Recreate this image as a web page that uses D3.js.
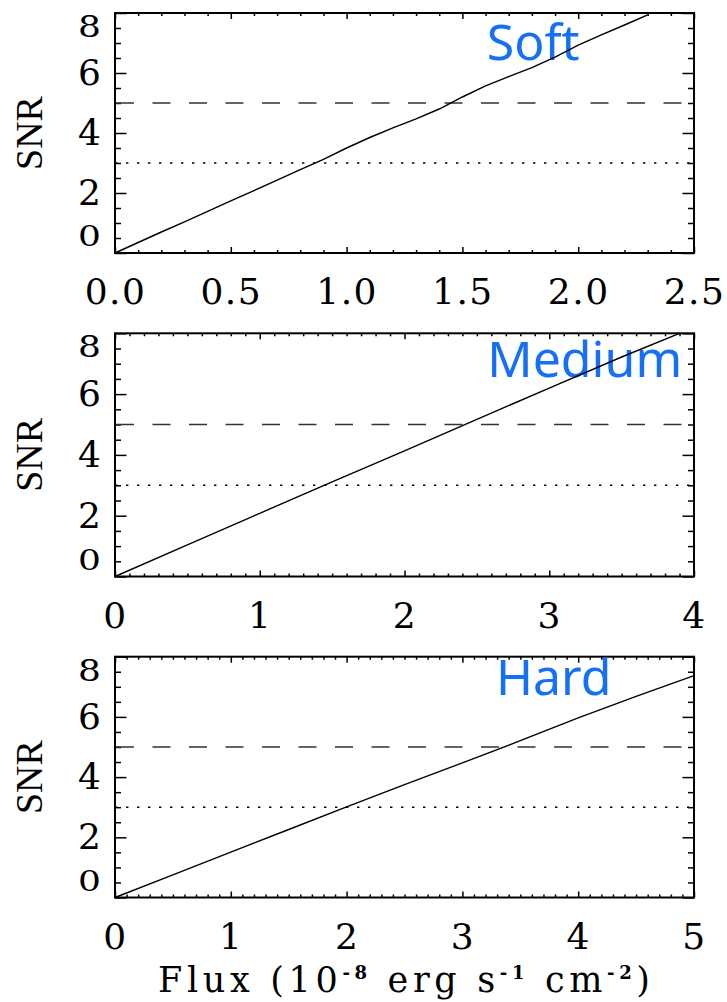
<!DOCTYPE html>
<html>
<head>
<meta charset="utf-8">
<script src="https://cdn.jsdelivr.net/npm/d3@7"></script>
<style>
  body { margin: 0; background: #fff; }
  svg { display: block; }
</style>
</head>
<body>
<svg id="chart"></svg>
<script>
// values
const bandNames = ["Soft", "Medium", "Hard"];

const softFlux = [0, 0.1, 0.2, 0.3, 0.4, 0.5, 0.6, 0.7, 0.8, 0.9, 1.0, 1.1, 1.2, 1.3, 1.4, 1.5, 1.6, 1.7, 1.8, 1.9, 2.0, 2.1, 2.2, 2.3];
const softSnr  = [0, 0.35, 0.70, 1.04, 1.39, 1.74, 2.08, 2.43, 2.78, 3.12, 3.50, 3.85, 4.17, 4.47, 4.80, 5.20, 5.57, 5.88, 6.18, 6.53, 6.93, 7.27, 7.60, 7.94];

const mediumFlux = [0, 0.5, 1.0, 1.5, 2.0, 2.5, 3.0, 3.5, 3.9];
const mediumSnr  = [0, 1.04, 2.08, 3.11, 4.13, 5.17, 6.20, 7.22, 8.0];

const hardFlux = [0, 0.5, 1.0, 1.5, 2.0, 2.5, 3.0, 3.5, 4.0, 4.5, 5.0];
const hardSnr  = [0, 0.75, 1.51, 2.26, 3.01, 3.75, 4.47, 5.21, 5.97, 6.68, 7.37];

const xMaxes = [2.5, 4, 5];
const xTickValues = [[0, 0.5, 1, 1.5, 2, 2.5], [0, 1, 2, 3, 4], [0, 1, 2, 3, 4, 5]];
const xTickLabels = [["0.0", "0.5", "1.0", "1.5", "2.0", "2.5"], ["0", "1", "2", "3", "4"], ["0", "1", "2", "3", "4", "5"]];
const yTickValues = [0, 2, 4, 6, 8];
const yTickLabels = ["0", "2", "4", "6", "8"];
const snrDetect = 5;   // dashed
const snrMarginal = 3; // dotted

const series = [
    softFlux.map((f, i) => ({flux: f, snr: softSnr[i]})),
    mediumFlux.map((f, i) => ({flux: f, snr: mediumSnr[i]})),
    hardFlux.map((f, i) => ({flux: f, snr: hardSnr[i]}))
];

// layout
const width = 727, height = 1002;
const left = 115, right = 694;
const frames = [
    {top: 13, bottom: 253},
    {top: 333.3, bottom: 576.5},
    {top: 656.7, bottom: 897.5}
];
const titleSpots = [[486.7, 60], [487.3, 377.3], [496, 695]];
const serif = "'DejaVu Serif', serif";
const tickFont = 36;

let svg = d3.select("#chart")
    .attr("width", width)
    .attr("height", height);

function styleTicks(sel) {
    sel.select(".domain").remove();
    sel.selectAll(".tick line").attr("stroke", "#000").attr("stroke-width", 1.5);
}

function drawPanel(i) {
    let f = frames[i];
    let g = svg.append("g");

    let x = d3.scaleLinear().domain([0, xMaxes[i]]).range([left, right]);
    let y = d3.scaleLinear().domain([0, 8]).range([f.bottom, f.top]);

    let xMinor = d3.range(1, Math.round(xMaxes[i] / 0.1)).map(k => k * 0.1)
        .filter(v => !xTickValues[i].some(t => Math.abs(t - v) < 1e-6));
    let yMinor = d3.range(1, 16).map(k => k * 0.5).filter(v => v % 2 !== 0);

    // inward ticks on all four sides
    g.append("g").attr("transform", `translate(0,${f.bottom})`)
        .call(d3.axisBottom(x).tickValues(xMinor).tickSize(-3).tickFormat(""))
        .call(styleTicks);
    g.append("g").attr("transform", `translate(0,${f.top})`)
        .call(d3.axisTop(x).tickValues(xMinor).tickSize(-3).tickFormat(""))
        .call(styleTicks);
    g.append("g").attr("transform", `translate(0,${f.top})`)
        .call(d3.axisTop(x).tickValues(xTickValues[i]).tickSize(-6).tickFormat(""))
        .call(styleTicks);
    g.append("g").attr("transform", `translate(${left},0)`)
        .call(d3.axisLeft(y).tickValues(yMinor).tickSize(-6).tickFormat(""))
        .call(styleTicks);
    g.append("g").attr("transform", `translate(${right},0)`)
        .call(d3.axisRight(y).tickValues(yMinor).tickSize(-6).tickFormat(""))
        .call(styleTicks);
    g.append("g").attr("transform", `translate(${right},0)`)
        .call(d3.axisRight(y).tickValues(yTickValues).tickSize(-11.5).tickFormat(""))
        .call(styleTicks);

    // labelled axes
    let xAxis = g.append("g").attr("transform", `translate(0,${f.bottom})`)
        .call(d3.axisBottom(x).tickValues(xTickValues[i]).tickSize(-6).tickPadding(25.5)
            .tickFormat((d, j) => xTickLabels[i][j]))
        .call(styleTicks);
    xAxis.selectAll("text")
        .attr("font-family", serif).attr("font-size", tickFont)
        .attr("letter-spacing", 1.5).attr("fill", "#000");

    let yAxis = g.append("g").attr("transform", `translate(${left},0)`)
        .call(d3.axisLeft(y).tickValues(yTickValues).tickSize(-11.5).tickPadding(14)
            .tickFormat((d, j) => yTickLabels[j]))
        .call(styleTicks);
    yAxis.selectAll("text")
        .attr("font-family", serif).attr("font-size", tickFont).attr("fill", "#000")
        .attr("transform", d => d === 8 ? "translate(0,14) scale(1,0.82)"
            : d === 0 ? "translate(0,-16) scale(1,0.75)" : null);

    // frame
    g.append("rect")
        .attr("x", left).attr("y", f.top)
        .attr("width", right - left).attr("height", f.bottom - f.top)
        .attr("fill", "none").attr("stroke", "#000").attr("stroke-width", 2);

    // thresholds
    g.append("line")
        .attr("x1", x(0)).attr("x2", x(xMaxes[i]))
        .attr("y1", y(snrDetect)).attr("y2", y(snrDetect))
        .attr("stroke", "#333").attr("stroke-width", 1.7)
        .attr("stroke-dasharray", "18 18.5").attr("stroke-dashoffset", -1);
    g.append("line")
        .attr("x1", x(0)).attr("x2", x(xMaxes[i]))
        .attr("y1", y(snrMarginal)).attr("y2", y(snrMarginal))
        .attr("stroke", "#000").attr("stroke-width", 1.6)
        .attr("stroke-dasharray", "2.4 8.6");

    // band name
    g.append("text")
        .attr("x", titleSpots[i][0]).attr("y", titleSpots[i][1])
        .attr("font-family", "'Noto Sans', sans-serif").attr("font-size", 50)
        .attr("fill", "#1570f8")
        .text(bandNames[i]);

    // SNR curve
    let line = d3.line().x(d => x(d.flux)).y(d => y(d.snr));
    g.append("path")
        .datum(series[i])
        .attr("d", line)
        .attr("fill", "none").attr("stroke", "#000").attr("stroke-width", 1.4);

    // y title
    g.append("text")
        .attr("transform", `translate(42,${(f.top + f.bottom) / 2}) rotate(-90)`)
        .attr("text-anchor", "middle")
        .attr("font-family", "'Liberation Serif', serif").attr("font-size", 38)
        .text("SNR");
}

[0, 1, 2].forEach(drawPanel);

// x title under the last panel
let xt = svg.append("text")
    .attr("x", 158).attr("y", 992)
    .attr("font-family", serif).attr("font-size", 35)
    .attr("textLength", 492).attr("lengthAdjust", "spacing");
xt.append("tspan").text("Flux (10");
xt.append("tspan").attr("font-size", 18).attr("font-weight", "bold").attr("dy", -13).text("-8");
xt.append("tspan").attr("dy", 13).text(" erg s");
xt.append("tspan").attr("font-size", 18).attr("font-weight", "bold").attr("dy", -13).text("-1");
xt.append("tspan").attr("dy", 13).text(" cm");
xt.append("tspan").attr("font-size", 18).attr("font-weight", "bold").attr("dy", -13).text("-2");
xt.append("tspan").attr("dy", 13).text(")");
</script>
</body>
</html>
